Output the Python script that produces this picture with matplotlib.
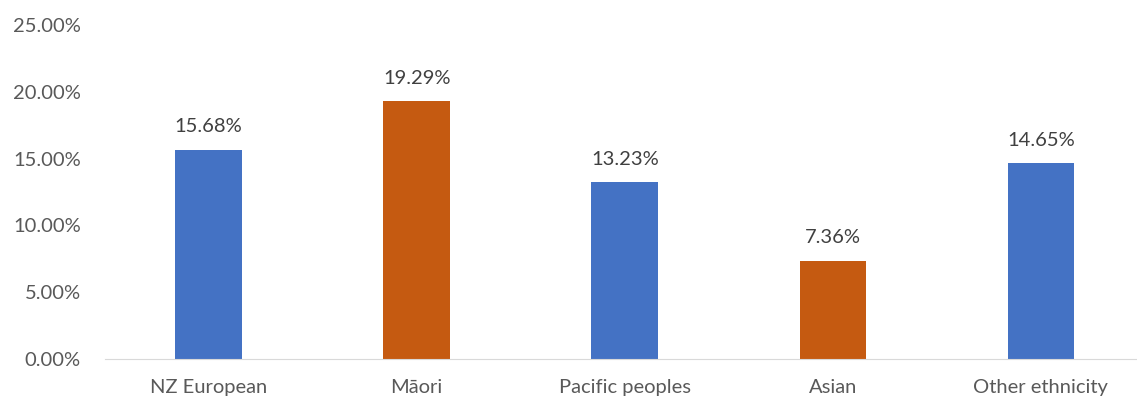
import matplotlib
matplotlib.use("Agg")
import matplotlib.pyplot as plt
from matplotlib.ticker import FuncFormatter

# data
categories = ["NZ European", "Māori", "Pacific peoples", "Asian", "Other ethnicity"]
values = [15.68, 19.29, 13.23, 7.36, 14.65]
bar_colors = ["#4472C4", "#C55A11", "#4472C4", "#C55A11", "#4472C4"]
yticks = [0, 5, 10, 15, 20, 25]

plt.rcParams['font.family'] = ['Lato', 'DejaVu Sans']

fig = plt.figure(figsize=(11.37, 4.03), dpi=100)
ax = fig.add_axes([0.092, 0.109, 0.915, 0.829])

x = range(len(categories))
bars = ax.bar(x, values, width=0.32, color=bar_colors, zorder=2)

for b, v in zip(bars, values):
    ax.text(b.get_x() + b.get_width() / 2, v + 1.1, "%.2f%%" % v,
            ha="center", va="bottom", fontsize=14.5, color="#404040")

ax.set_xlim(-0.5, len(categories) - 0.5)
ax.set_ylim(0, 25)
ax.set_yticks(yticks)
ax.yaxis.set_major_formatter(FuncFormatter(lambda v, p: "%.2f%%" % v))
ax.set_xticks(list(x))
ax.set_xticklabels(categories)

for s in ["top", "right", "left"]:
    ax.spines[s].set_visible(False)
ax.spines["bottom"].set_color("#D9D9D9")
ax.tick_params(axis="both", length=0, labelsize=14.5, colors="#595959")
ax.tick_params(axis="x", pad=14)
ax.tick_params(axis="y", pad=17)

plt.savefig("out.png", dpi=100)
